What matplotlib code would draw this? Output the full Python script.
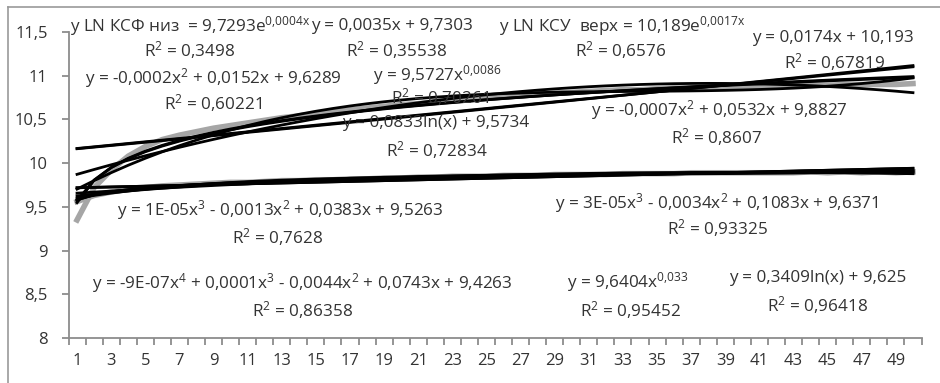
import numpy as np
import matplotlib
matplotlib.use("Agg")
import matplotlib.pyplot as plt
from matplotlib.lines import Line2D

plt.rcParams["font.family"] = ["Open Sans", "DejaVu Sans"]
plt.rcParams["mathtext.fontset"] = "custom"
plt.rcParams["mathtext.rm"] = "Open Sans"

# Data
x = np.arange(1, 51)
ksu_verh = [9.35, 9.72, 9.92, 10.08, 10.19, 10.27, 10.32, 10.36, 10.40, 10.43,
            10.46, 10.49, 10.52, 10.54, 10.57, 10.59, 10.61, 10.63, 10.65, 10.67,
            10.68, 10.70, 10.72, 10.73, 10.75, 10.76, 10.77, 10.79, 10.80, 10.81,
            10.82, 10.83, 10.84, 10.84, 10.85, 10.86, 10.86, 10.87, 10.87, 10.88,
            10.88, 10.88, 10.89, 10.89, 10.89, 10.90, 10.90, 10.90, 10.90, 10.91]
ksf_niz = [9.56, 9.63, 9.67, 9.70, 9.72, 9.74, 9.75, 9.76, 9.77, 9.78,
           9.78, 9.79, 9.80, 9.80, 9.81, 9.81, 9.82, 9.82, 9.83, 9.83,
           9.84, 9.84, 9.85, 9.85, 9.85, 9.86, 9.86, 9.86, 9.87, 9.87,
           9.87, 9.87, 9.88, 9.88, 9.88, 9.88, 9.89, 9.89, 9.89, 9.89,
           9.89, 9.89, 9.89, 9.90, 9.89, 9.90, 9.89, 9.90, 9.89, 9.90]
y_ticks = [8, 8.5, 9, 9.5, 10, 10.5, 11, 11.5]
y_tick_labels = ["8", "8,5", "9", "9,5", "10", "10,5", "11", "11,5"]

R = r"R$\mathregular{^2}$"
S2 = r"$\mathregular{^2}$"
S3 = r"$\mathregular{^3}$"
S4 = r"$\mathregular{^4}$"
# equation labels: (text, x, y) in pixel coordinates of the 940x383 image
labels = [
    (r"y LN КСФ низ  = 9,7293e$\mathregular{^{0{,}0004x}}$", 190, 26),
    (R + " = 0,3498", 190, 50),
    ("y = 0,0035x + 9,7303", 392, 26),
    (R + " = 0,35538", 397, 50),
    (r"y LN КСУ  верх = 10,189e$\mathregular{^{0{,}0017x}}$", 622, 26),
    (R + " = 0,6576", 621, 50),
    ("y = 0,0174x + 10,193", 833, 38),
    (R + " = 0,67819", 834, 62),
    ("y = -0,0002x" + S2 + " + 0,0152x + 9,6289", 213, 78),
    (R + " = 0,60221", 213, 103),
    (r"y = 9,5727x$\mathregular{^{0{,}0086}}$", 437, 75),
    (R + " = 0,70261", 440, 97),
    ("y = 0,0833ln(x) + 9,5734", 436, 123),
    (R + " = 0,72834", 437, 150),
    ("y = -0,0007x" + S2 + " + 0,0532x + 9,8827", 719, 110),
    (R + " = 0,8607", 717, 137),
    ("y = 1E-05x" + S3 + " - 0,0013x" + S2 + " + 0,0383x + 9,5263", 280, 210),
    (R + " = 0,7628", 278, 237),
    ("y = 3E-05x" + S3 + " - 0,0034x" + S2 + " + 0,1083x + 9,6371", 717, 203),
    (R + " = 0,93325", 717, 228),
    ("y = -9E-07x" + S4 + " + 0,0001x" + S3 + " - 0,0044x" + S2 + " + 0,0743x + 9,4263", 302, 283),
    (R + " = 0,86358", 303, 310),
    (r"y = 9,6404x$\mathregular{^{0{,}033}}$", 628, 282),
    (R + " = 0,95452", 630, 310),
    ("y = 0,3409ln(x) + 9,625", 818, 278),
    (R + " = 0,96418", 818, 305),
]


def trends(y):
    y = np.asarray(y)
    out = []
    lx, ly = np.log(x), np.log(y)
    b, a = np.polyfit(x, ly, 1)
    out.append(np.exp(a) * np.exp(b * x))          # exponential
    out.append(np.polyval(np.polyfit(x, y, 1), x))   # linear
    out.append(np.polyval(np.polyfit(x, y, 2), x))   # poly 2
    out.append(np.polyval(np.polyfit(x, y, 3), x))   # poly 3
    b, a = np.polyfit(lx, ly, 1)
    out.append(np.exp(a) * x ** b)                   # power
    out.append(np.polyval(np.polyfit(lx, y, 1), lx)) # log
    return out


W, H = 940, 383
fig = plt.figure(figsize=(9.4, 3.83), dpi=100)
ax = fig.add_axes([68.5 / W, 1 - 338 / H, (921.5 - 68.5) / W, (338 - 32) / H])

gray = "#a6a6a6"
ax.plot(x, ksu_verh, color=gray, lw=4, zorder=2)
ax.plot(x, ksf_niz, color=gray, lw=4, zorder=2)

for t in trends(ksu_verh):
    ax.plot(x, t, color="black", lw=2, zorder=3)
for t in trends(ksf_niz):
    ax.plot(x, t, color="black", lw=2, zorder=3)
# quartic for the lower series
ax.plot(x, np.polyval(np.polyfit(x, ksf_niz, 4), x), color="black", lw=2, zorder=3)

ax.set_xlim(0.5, 50.5)
ax.set_ylim(8, 11.5)
ax.set_yticks(y_ticks)
ax.set_yticklabels(y_tick_labels)
ax.set_xticks(np.arange(0.5, 51, 1))
ax.set_xticklabels([])
ax.set_xticks(x[::2], minor=True)
ax.set_xticklabels([str(v) for v in x[::2]], minor=True)

axis_col = "#8c8c8c"
txt_col = "#333333"
for s in ["top", "right"]:
    ax.spines[s].set_visible(False)
for s in ["left", "bottom"]:
    ax.spines[s].set_color(axis_col)
    ax.spines[s].set_linewidth(1.3)
ax.tick_params(axis="both", which="major", color=axis_col, length=5, width=1.3,
               labelsize=12, labelcolor=txt_col)
ax.tick_params(axis="x", which="minor", length=0, pad=11, labelsize=12, labelcolor=txt_col)
ax.tick_params(axis="y", pad=10)

for txt, px, py in labels:
    fig.text(px / W, 1 - py / H, txt, ha="center", va="center", fontsize=12.3,
             color=txt_col)

# chart area border (left and top edges visible)
fig.add_artist(Line2D([8 / W, 8 / W], [0, 1 - 7 / H], color="#999999", lw=1.2,
                      transform=fig.transFigure))
fig.add_artist(Line2D([8 / W, 1], [1 - 7 / H, 1 - 7 / H], color="#999999", lw=1.2,
                      transform=fig.transFigure))

fig.savefig("out.png", dpi=100)
